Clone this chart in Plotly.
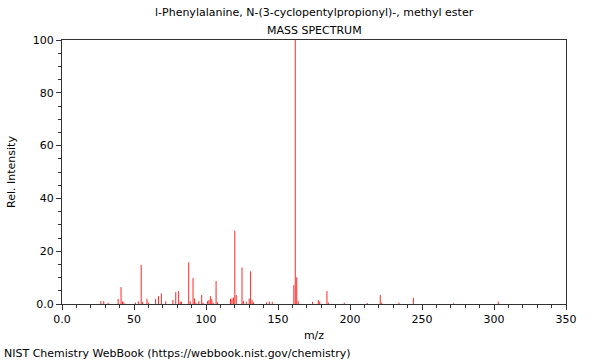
import plotly.graph_objects as go

mz = [27, 29, 32, 39, 41, 42, 43, 51, 53, 55, 56, 59, 60, 65, 67, 69, 72, 77, 79, 81, 82,
      83, 88, 89, 91, 92, 93, 95, 97, 98, 101, 102, 103, 104, 105, 107, 108,
      117, 118, 119, 120, 121, 125, 126, 128, 130, 131, 132, 133, 142, 144, 146,
      161, 162, 163, 164, 174, 178, 179, 184, 185, 196,
      212, 221, 222, 234, 244, 272, 303]
intensity = [1.1, 1.1, 0.5, 1.9, 6.4, 1.0, 0.6, 0.5, 1.0, 14.8, 0.8, 2.0, 0.5, 1.9, 3.0, 4.0, 1.0, 1.5, 4.5, 4.9, 0.8,
             0.9, 15.8, 1.1, 9.8, 2.1, 0.5, 1.1, 3.4, 0.5, 1.1, 1.5, 3.0, 1.9, 0.5, 8.7, 0.7,
             1.9, 2.1, 2.5, 27.8, 3.4, 13.8, 1.1, 0.9, 2.1, 12.4, 1.5, 0.6, 0.6, 0.9, 0.8,
             7.2, 100.0, 10.1, 1.1, 0.8, 1.5, 1.0, 4.9, 0.5, 0.5,
             0.4, 3.4, 0.5, 0.5, 2.3, 0.3, 0.9]

x_ticks = [0, 50, 100, 150, 200, 250, 300, 350]
x_ticktext = ["0.0", "50", "100", "150", "200", "250", "300", "350"]
y_ticks = [0, 20, 40, 60, 80, 100]
y_ticktext = ["0.0", "20", "40", "60", "80", "100"]

title_line1 = "l-Phenylalanine, N-(3-cyclopentylpropionyl)-, methyl ester"
title_line2 = "MASS SPECTRUM"
footer = "NIST Chemistry WebBook (https://webbook.nist.gov/chemistry)"

FONT = "DejaVu Sans"
AX = "#333333"

# stick spectrum: vertical segments from 0 to each intensity
xs, ys = [], []
for m, h in zip(mz, intensity):
    xs += [m, m, None]
    ys += [0, h, None]

fig = go.Figure()
fig.add_trace(go.Scatter(x=xs, y=ys, mode="lines",
                         line=dict(color="rgba(255,0,0,0.85)", width=1),
                         hoverinfo="skip"))

PH = 264.0
PW = 504.0
fig.update_layout(
    width=600, height=360,
    margin=dict(l=62, r=34, t=40, b=56),
    paper_bgcolor="white", plot_bgcolor="white",
    font=dict(family=FONT, size=11, color="black"),
    showlegend=False,
    annotations=[
        dict(text=title_line1, xref="paper", yref="paper", x=0.5, y=1 + (40 - 13) / PH,
             showarrow=False, font=dict(size=11), xanchor="center", yanchor="middle"),
        dict(text=title_line2, xref="paper", yref="paper", x=0.5, y=1 + (40 - 30) / PH,
             showarrow=False, font=dict(size=11), xanchor="center", yanchor="middle"),
        dict(text=footer, xref="paper", yref="paper", x=-60 / PW, y=-(353 - 304) / PH,
             showarrow=False, font=dict(size=11), xanchor="left", yanchor="middle"),
    ],
)

fig.update_xaxes(range=[0, 350], tickvals=x_ticks, ticktext=x_ticktext,
                 ticks="outside", ticklen=5, tickcolor=AX, showline=True, linecolor=AX,
                 linewidth=1, mirror=True, showgrid=False, zeroline=False,
                 minor=dict(dtick=10, ticks="outside", ticklen=3, tickcolor=AX, showgrid=False),
                 title=dict(text="m/z", standoff=6, font=dict(size=11)),
                 tickfont=dict(size=11))
fig.update_yaxes(range=[0, 100], tickvals=y_ticks, ticktext=y_ticktext,
                 ticks="outside", ticklen=5, tickcolor=AX, showline=True, linecolor=AX,
                 linewidth=1, mirror=True, showgrid=False, zeroline=False,
                 minor=dict(dtick=5, ticks="outside", ticklen=3, tickcolor=AX, showgrid=False),
                 title=dict(text="Rel. Intensity", standoff=14, font=dict(size=11)),
                 tickfont=dict(size=11))

fig.write_html("out.html", config={"displayModeBar": False},
               post_script="document.body.style.margin='0px';")
